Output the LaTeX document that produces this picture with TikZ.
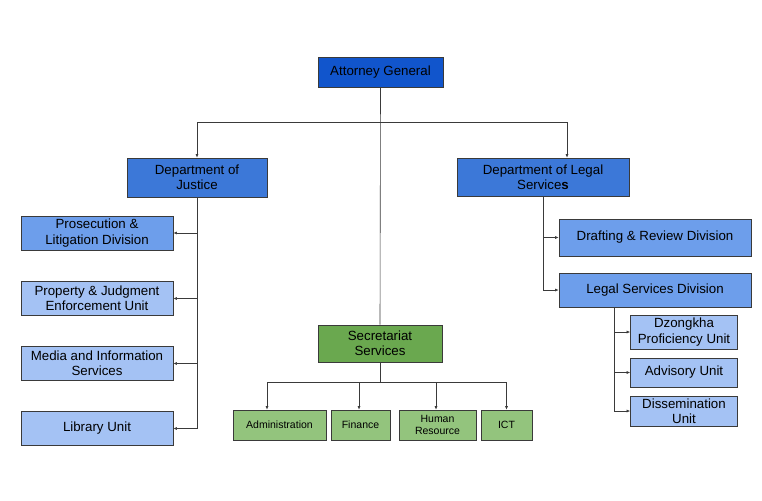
\documentclass[tikz,border=0pt]{standalone}
\usepackage{fontspec}
\setmainfont{Liberation Sans}
\usetikzlibrary{arrows.meta, positioning, calc}
\definecolor{orgNavy}{HTML}{1155CC}
\definecolor{orgBlue}{HTML}{3C78D8}
\definecolor{orgMid}{HTML}{6D9EEB}
\definecolor{orgLight}{HTML}{A4C2F4}
\definecolor{orgGreen}{HTML}{6AA84F}
\definecolor{orgLeaf}{HTML}{93C47D}
\definecolor{orgEdge}{HTML}{3A3A3A}

\begin{document}
\begin{tikzpicture}[x=1pt, y=-1pt,
    orgbox/.style={rectangle, draw=orgEdge, line width=0.7pt, inner sep=1pt,
      align=center, text=black, font=\fontsize{13.3}{15.3}\selectfont},
    leafbox/.style={orgbox, fill=orgLeaf, minimum height=30pt,
      font=\fontsize{10.5}{12.7}\selectfont},
    link/.style={draw=orgEdge, line width=0.6pt},
    arr/.style={link, -{Latex[length=3.5pt, width=3pt]}}]
  \useasboundingbox (0,0) rectangle (762,500);

  % top level
  \node[orgbox, fill=orgNavy, minimum width=125pt, minimum height=30pt]
    (ag) at (380.5,72) {Attorney General};

  % departments
  \node[orgbox, fill=orgBlue, minimum width=140pt, minimum height=39pt]
    (doj) at (197,177.5) {Department of\\Justice};
  \node[orgbox, fill=orgBlue, minimum width=172pt, minimum height=38pt]
    (dls) at (543,177) {Department of Legal\\Service\textbf{s}};

  % justice units
  \node[orgbox, fill=orgMid, minimum width=152pt, minimum height=34pt]
    (pro) at (97,233) {Prosecution \&\\Litigation Division};
  \node[orgbox, fill=orgLight, minimum width=152pt, minimum height=34pt]
    (pje) at (97,298.5) {Property \& Judgment\\Enforcement Unit};
  \node[orgbox, fill=orgLight, minimum width=152pt, minimum height=34pt]
    (mis) at (97,363.5) {Media and Information\\Services};
  \node[orgbox, fill=orgLight, minimum width=152pt, minimum height=34pt]
    (lib) at (97,428.5) {Library Unit};

  % legal services divisions
  \node[orgbox, fill=orgMid, minimum width=192pt, minimum height=37pt]
    (drd) at (655,237.5) {Drafting \& Review Division};
  \node[orgbox, fill=orgMid, minimum width=192pt, minimum height=34pt]
    (lsd) at (655,290) {Legal Services Division};
  \node[orgbox, fill=orgLight, minimum width=107pt, minimum height=34pt]
    (dzo) at (684,332) {Dzongkha\\Proficiency Unit};
  \node[orgbox, fill=orgLight, minimum width=107pt, minimum height=29pt]
    (adv) at (684,372.5) {Advisory Unit};
  \node[orgbox, fill=orgLight, minimum width=107pt, minimum height=30pt]
    (dis) at (684,411) {Dissemination\\Unit};

  % secretariat
  \node[orgbox, fill=orgGreen, minimum width=124pt, minimum height=37pt]
    (sec) at (380,343.5) {Secretariat\\Services};
  \node[leafbox, minimum width=93pt] (adm) at (279.5,425) {Administration};
  \node[leafbox, minimum width=59pt] (fin) at (360.5,425) {Finance};
  \node[leafbox, minimum width=77pt] (hum) at (437.5,425) {Human\\Resource};
  \node[leafbox, minimum width=51pt] (ict) at (506.5,425) {ICT};

  % connectors
  \coordinate (split) at (380,122);
  \coordinate (bus) at (380,382);
  \draw[link] (ag.south) -- (sec.north);
  \draw[arr] (split) -| (doj.north);
  \draw[arr] (split) -| ([xshift=24pt]dls.north);

  \draw[link] (doj.south) -- (doj.south |- lib.east);
  \foreach \unit in {pro, pje, mis, lib}
    \draw[arr] (doj.south |- \unit.east) -- (\unit.east);

  \draw[arr] (dls.south) |- (lsd.west);
  \draw[arr] (dls.south |- drd.west) -- (drd.west);

  \coordinate (lsdfoot) at ([xshift=-41pt]lsd.south);
  \draw[link] (lsdfoot) -- (lsdfoot |- dis.west);
  \foreach \unit in {dzo, adv, dis}
    \draw[arr] (lsdfoot |- \unit.west) -- (\unit.west);

  \draw[link] (sec.south) -- (bus);
  \draw[arr] (bus) -| ([xshift=-12.5pt]adm.north);
  \draw[arr] (bus) -| ([xshift=-1.5pt]fin.north);
  \draw[arr] (bus) -| ([xshift=-1.5pt]hum.north);
  \draw[arr] (bus) -| (ict.north);
\end{tikzpicture}
\end{document}
